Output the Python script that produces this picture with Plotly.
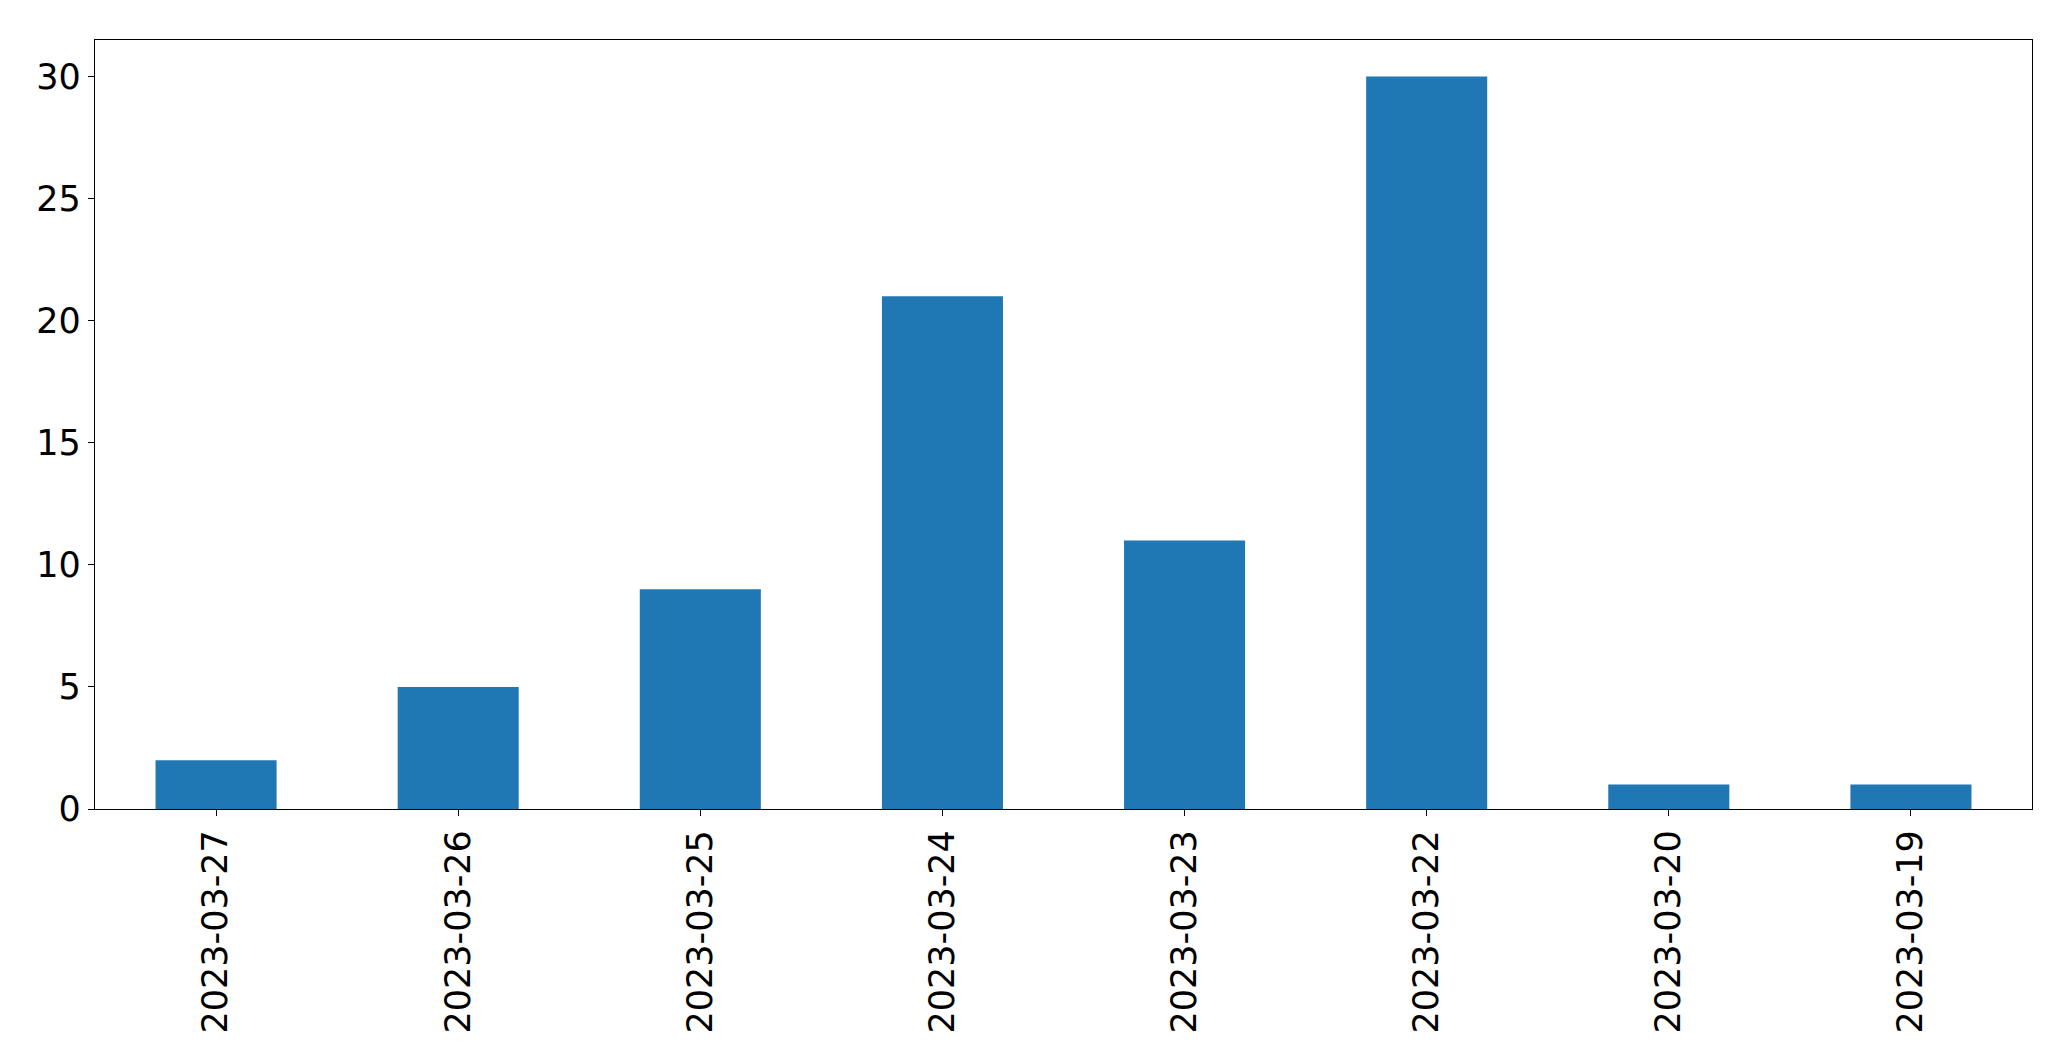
import plotly.graph_objects as go

dates = ["2023-03-27", "2023-03-26", "2023-03-25", "2023-03-24",
         "2023-03-23", "2023-03-22", "2023-03-20", "2023-03-19"]
counts = [2, 5, 9, 21, 11, 30, 1, 1]
y_ticks = [0, 5, 10, 15, 20, 25, 30]

fig = go.Figure(go.Bar(x=dates, y=counts, marker_color="#1f77b4",
                       marker_line_width=0, width=0.5))

# page body has an 8px default margin
OFF = 8
W, H = 2071 - OFF, 1061 - OFF
L, T, R, B = 94.5 - OFF, 39.5 - OFF, 39.3, 252
font = dict(family="DejaVu Sans", size=35, color="black")
fig.update_layout(
    width=W, height=H,
    margin=dict(l=L, r=R, t=T, b=B, pad=0),
    paper_bgcolor="white", plot_bgcolor="white",
    showlegend=False, bargap=0.5,
    font=font,
)
fig.update_xaxes(type="category", categoryorder="array", categoryarray=dates,
                 range=[-0.5, len(dates) - 0.5],
                 showline=True, linecolor="black", linewidth=1.3, mirror=True,
                 ticks="outside", ticklen=6, tickwidth=1.3, tickcolor="black",
                 tickangle=-90, showgrid=False, zeroline=False,
                 tickfont=font)
fig.update_yaxes(range=[0, 31.5], tickvals=y_ticks,
                 showline=True, linecolor="black", linewidth=1.3, mirror=True,
                 ticks="outside", ticklen=6, tickwidth=1.3, tickcolor="black",
                 showgrid=False, zeroline=False, tickfont=font)

fig.write_html("out.html")
